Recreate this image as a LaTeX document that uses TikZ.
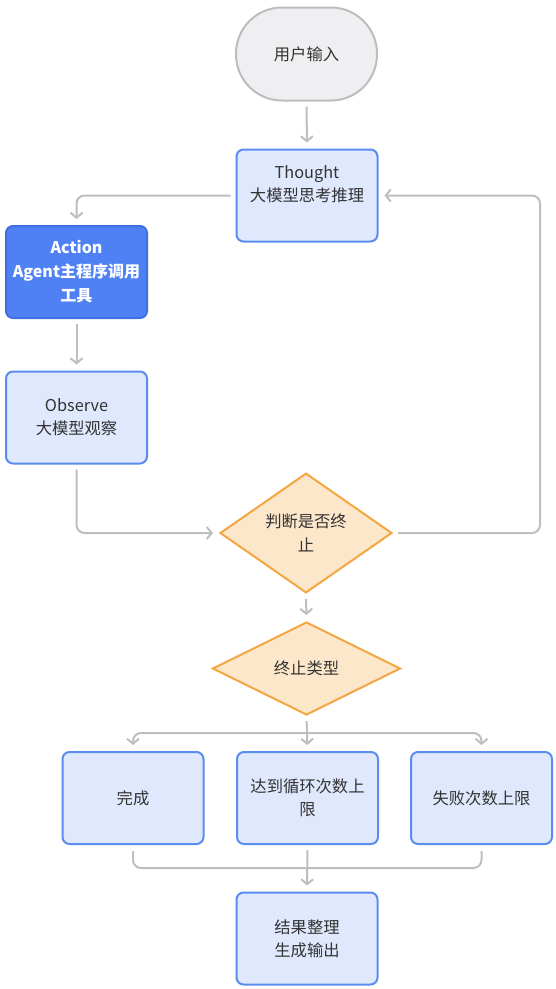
\documentclass[tikz,border=0pt]{standalone}
\usepackage{fontspec}
\setmainfont{Noto Sans CJK SC}
\usetikzlibrary{shapes.geometric,arrows.meta}
\definecolor{lnc}{HTML}{BEBEBE}
\definecolor{bstroke}{HTML}{5B8DEF}
\definecolor{bfill}{HTML}{DFE8FC}
\definecolor{afill}{HTML}{4F81F5}
\definecolor{astroke}{HTML}{3F6FE0}
\definecolor{ofill}{HTML}{FDE7CB}
\definecolor{ostroke}{HTML}{F4A640}
\definecolor{gfill}{HTML}{EFEFF1}
\definecolor{gstroke}{HTML}{BDBDC0}
\definecolor{txt}{HTML}{333333}
\tikzset{
  box/.style={draw=bstroke, fill=bfill, line width=2pt, rounded corners=7pt,
    minimum width=141pt, minimum height=92pt, align=center, inner sep=0pt,
    text=txt, font=\fontsize{16.3}{23}\selectfont},
  actbox/.style={box, draw=astroke, fill=afill, text=white, font=\fontsize{16}{24}\selectfont\bfseries},
  term/.style={draw=gstroke, fill=gfill, line width=2pt, rounded corners=46pt,
    minimum width=141pt, minimum height=93pt, align=center, inner sep=0pt,
    text=txt, font=\fontsize{16.3}{23}\selectfont},
  dec/.style={diamond, draw=ostroke, fill=ofill, line width=2pt, align=center,
    inner sep=0pt, text=txt, font=\fontsize{16.3}{24}\selectfont},
  line/.style={draw=lnc, line width=2pt, rounded corners=8pt},
  arr/.style={line, -{Straight Barb[length=5pt,width=12pt,line width=2pt]}, shorten >=6pt, shorten <=5pt},
}
\begin{document}
\begin{tikzpicture}[x=1pt,y=-1pt]
\useasboundingbox (0,0) rectangle (556,989);
\node[term] (u) at (306.5,54) {用户输入};
\node[box] (t) at (307,195.5) {Thought\\大模型思考推理\\\mbox{}};
\node[actbox] (a) at (76.5,272) {Action\\Agent主程序调用\\工具};
\node[box] (o) at (76.5,417.5) {Observe\\大模型观察};
\node[dec, minimum width=172pt, minimum height=108pt] (d1) at (306,533) {判断是否终\\止};
\node[dec, minimum width=188pt, minimum height=93pt] (d2) at (306.5,668.5) {终止类型};
\node[box] (b1) at (133,798) {完成};
\node[box] (b2) at (307.5,798) {达到循环次数上\\限};
\node[box] (b3) at (481.5,798) {失败次数上限};
\node[box] (r) at (307,938.5) {结果整理\\生成输出};

\coordinate (rr) at (540,195.5);
\coordinate (sp) at (306.5,733);
\coordinate (mg) at (307.5,868);

\draw[arr] (u.south) -- (t.north);
\draw[arr] (t.west) -| (a.north);
\draw[arr] (a.south) -- (o.north);
\draw[arr] (o.south) |- (d1.west);
\draw[arr] (d1.east) -| (rr) -- (t.east);
\draw[arr] (d1.south) -- (d2.north);
\draw[arr, shorten <=0pt] (sp) -| (b1.north);
\draw[arr, shorten <=0pt] (sp) -| (b3.north);
\draw[arr] (d2.south) -- (b2.north);
\draw[line, shorten <=6pt] (b1.south) |- (mg);
\draw[line, shorten <=6pt] (b3.south) |- (mg);
\draw[arr] (b2.south) -- (r.north);
\end{tikzpicture}
\end{document}
